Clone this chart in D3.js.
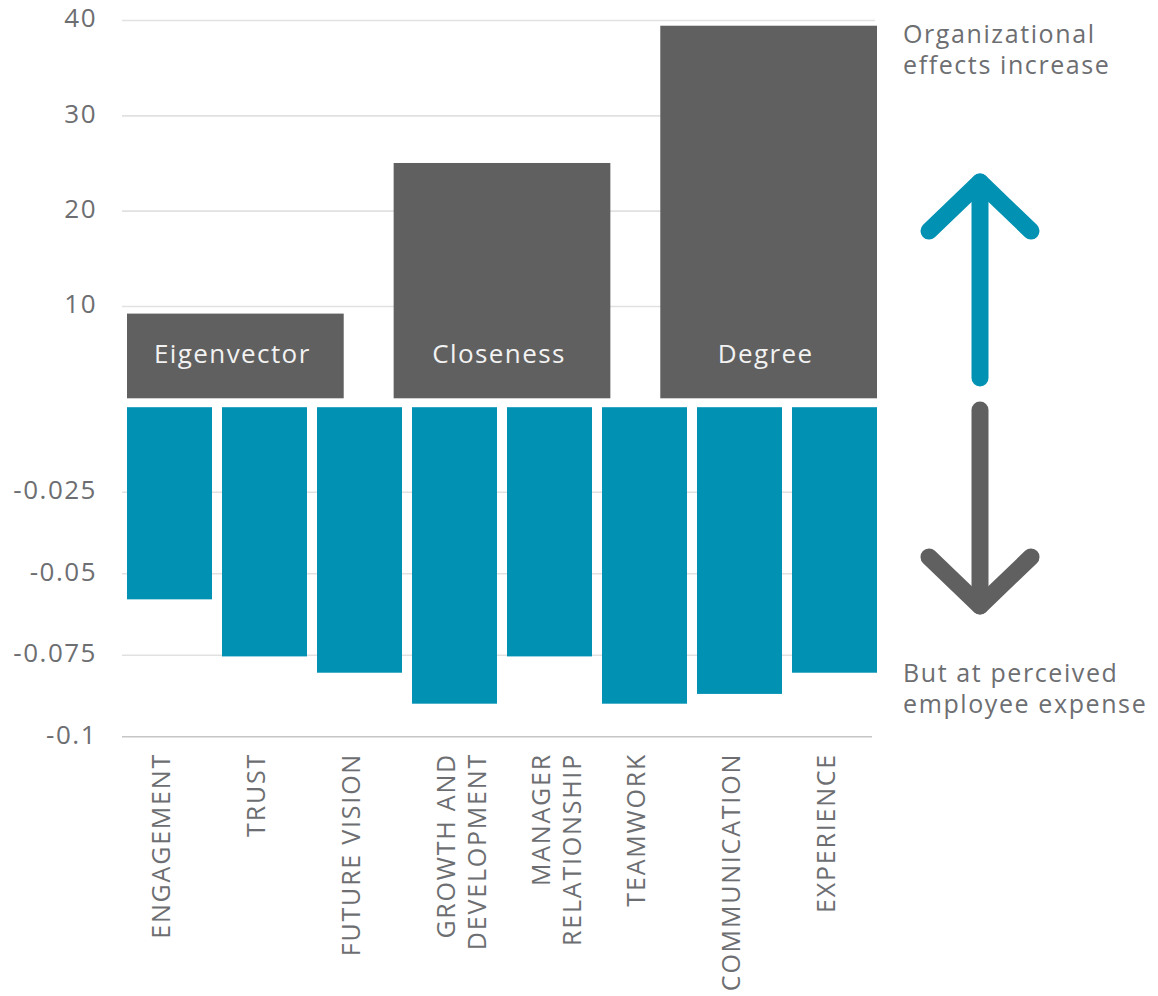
<!DOCTYPE html>
<html>
<head>
<meta charset="utf-8">
<script src="https://cdn.jsdelivr.net/npm/d3@7"></script>
<style>
  body { margin: 0; background: #fff; }
  text { font-family: "Open Sans", sans-serif; }
</style>
</head>
<body>
<div id="chart"></div>
<script>
var svgWidth = 1158;
var svgHeight = 996;

// Data
var measures = ["Eigenvector", "Closeness", "Degree"];
var measureValues = [9.2, 25, 39.4];

var categories = [
  ["ENGAGEMENT"],
  ["TRUST"],
  ["FUTURE VISION"],
  ["GROWTH AND", "DEVELOPMENT"],
  ["MANAGER", "RELATIONSHIP"],
  ["TEAMWORK"],
  ["COMMUNICATION"],
  ["EXPERIENCE"]
];
var expenseValues = [-0.058, -0.0755, -0.0805, -0.09, -0.0755, -0.09, -0.087, -0.0805];

var topTicks = [10, 20, 30, 40];
var topTickLabels = ["10", "20", "30", "40"];
var bottomTicks = [-0.025, -0.05, -0.075, -0.1];
var bottomTickLabels = ["-0.025", "-0.05", "-0.075", "-0.1"];

var teal = "#0091b3";
var grey = "#606060";
var textGrey = "#6d6e71";

var svg = d3.select("#chart")
  .append("svg")
  .attr("width", svgWidth)
  .attr("height", svgHeight);

var plotLeft = 122, plotRight = 875;
var barsLeft = 127, barsRight = 877;

// Scales
var yTop = d3.scaleLinear().domain([0, 40]).range([401.3, 20]);
var yBot = d3.scaleLinear().domain([0, -0.1]).range([410.2, 736.3]);

var xTop = d3.scaleBand()
  .domain(measures)
  .range([barsLeft, barsRight])
  .paddingInner(50 / 267)
  .paddingOuter(0);

var xBot = d3.scaleBand()
  .domain(d3.range(categories.length))
  .range([barsLeft, barsRight])
  .paddingInner(10 / 95)
  .paddingOuter(0);

// Axes with gridlines
function styleAxis(g) {
  g.select(".domain").remove();
  g.selectAll(".tick line")
    .attr("stroke", "#e1e1e1")
    .attr("stroke-width", 1.6);
  g.selectAll(".tick text")
    .attr("fill", textGrey)
    .attr("font-size", 26)
    .attr("letter-spacing", "1.5px")
    .attr("dy", "0.26em");
}

var topAxis = d3.axisLeft(yTop)
  .tickValues(topTicks)
  .tickFormat((d, i) => topTickLabels[i])
  .tickSizeInner(-(plotRight - plotLeft))
  .tickSizeOuter(0)
  .tickPadding(25);

svg.append("g")
  .attr("transform", `translate(${plotLeft},0)`)
  .call(topAxis)
  .call(styleAxis);

var bottomAxis = d3.axisLeft(yBot)
  .tickValues(bottomTicks)
  .tickFormat((d, i) => bottomTickLabels[i])
  .tickSizeInner(-(plotRight - 3 - plotLeft))
  .tickSizeOuter(0)
  .tickPadding(25);

svg.append("g")
  .attr("transform", `translate(${plotLeft},0)`)
  .call(bottomAxis)
  .call(styleAxis)
  .selectAll(".tick line")
  .filter(d => d === -0.1)
  .attr("stroke", "#c6c6c6");

// Top bars (network measures)
svg.selectAll(".top-bar")
  .data(measureValues)
  .enter()
  .append("rect")
  .attr("class", "top-bar")
  .attr("x", (d, i) => xTop(measures[i]))
  .attr("width", xTop.bandwidth())
  .attr("y", d => yTop(d))
  .attr("height", d => yTop(0) - 3 - yTop(d))
  .attr("fill", grey);

svg.selectAll(".top-label")
  .data(measures)
  .enter()
  .append("text")
  .attr("class", "top-label")
  .attr("x", d => xTop(d) + xTop.bandwidth() / 2 - 3)
  .attr("y", yTop(0) - 38)
  .attr("text-anchor", "middle")
  .attr("fill", "#f2f2f2")
  .attr("font-size", 26)
  .attr("letter-spacing", "1.4px")
  .text(d => d);

// Bottom bars (employee perception)
svg.selectAll(".bot-bar")
  .data(expenseValues)
  .enter()
  .append("rect")
  .attr("class", "bot-bar")
  .attr("x", (d, i) => xBot(i))
  .attr("width", xBot.bandwidth())
  .attr("y", yBot(0) - 3)
  .attr("height", d => yBot(d) - (yBot(0) - 3))
  .attr("fill", teal);

// Category labels, rotated
var catLabels = svg.selectAll(".cat-label")
  .data(categories)
  .enter()
  .append("text")
  .attr("class", "cat-label")
  .attr("transform", (d, i) => `translate(${xBot(i) + xBot.bandwidth() / 2}, 753) rotate(-90)`)
  .attr("text-anchor", "end")
  .attr("fill", textGrey)
  .attr("font-size", 25)
  .attr("letter-spacing", "1.8px");

catLabels.selectAll("tspan")
  .data(d => d)
  .enter()
  .append("tspan")
  .attr("x", 0)
  .attr("dy", (d, i) => i === 0 ? 0 : 31)
  .text(d => d);

// Side annotations
var notes = [
  { lines: ["Organizational", "effects increase"], y: 43 },
  { lines: ["But at perceived", "employee expense"], y: 682 }
];

notes.forEach(function(n) {
  var t = svg.append("text")
    .attr("x", 903)
    .attr("y", n.y)
    .attr("fill", textGrey)
    .attr("font-size", 25)
    .attr("letter-spacing", "1.6px");
  n.lines.forEach(function(l, i) {
    t.append("tspan")
      .attr("x", 903)
      .attr("dy", i === 0 ? 0 : 31)
      .text(l);
  });
});

// Arrows
var arrowX = 980;
function arrow(color, shaftFrom, tip, armY) {
  var g = svg.append("g")
    .attr("fill", "none")
    .attr("stroke", color)
    .attr("stroke-width", 17)
    .attr("stroke-linecap", "round")
    .attr("stroke-linejoin", "round");
  g.append("path")
    .attr("d", `M${arrowX},${shaftFrom} L${arrowX},${tip}`);
  g.append("path")
    .attr("d", `M${arrowX - 51},${armY} L${arrowX},${tip} L${arrowX + 51},${armY}`);
}
arrow(teal, 378, 182, 231);
arrow(grey, 410, 606, 557);
</script>
</body>
</html>
